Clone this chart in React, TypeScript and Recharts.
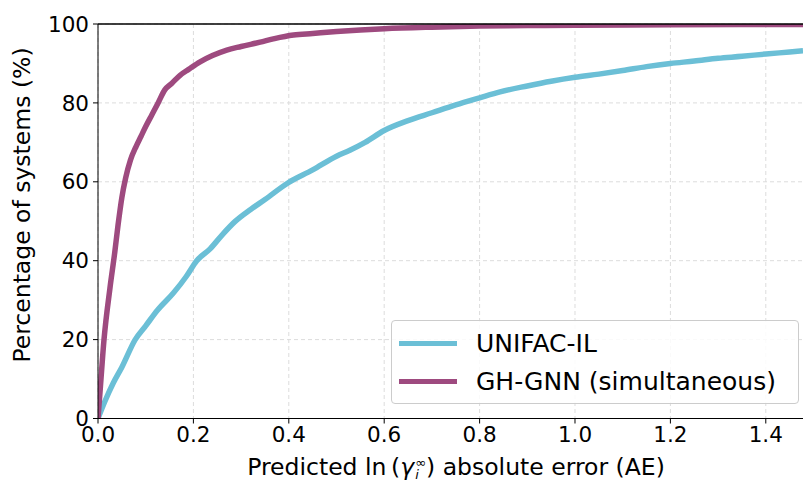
import React from 'react'
import {
  LineChart,
  Line,
  XAxis,
  YAxis,
  CartesianGrid,
  ReferenceLine,
} from 'recharts'

// absolute error (x) vs cumulative percentage of systems (y)
const unifacX = [0, 0.015, 0.032, 0.05, 0.078, 0.1, 0.125, 0.158, 0.185, 0.207, 0.235, 0.26, 0.287, 0.32, 0.35, 0.398, 0.45, 0.5, 0.528, 0.56, 0.6, 0.65, 0.7, 0.75, 0.8, 0.843, 0.9, 0.95, 1.0, 1.05, 1.1, 1.15, 1.2, 1.25, 1.3, 1.35, 1.4, 1.45, 1.478]
const unifacY = [0, 4.5, 9, 13, 20, 23.5, 27.5, 31.8, 36, 40, 43, 46.5, 49.9, 53, 55.5, 59.7, 63, 66.5, 68, 70, 73, 75.5, 77.5, 79.5, 81.3, 82.8, 84.3, 85.5, 86.5, 87.3, 88.2, 89.2, 90, 90.6, 91.3, 91.8, 92.4, 92.9, 93.2]

const ghgnnX = [0, 0.005, 0.0126, 0.025, 0.035, 0.042, 0.05, 0.058, 0.068, 0.08, 0.09, 0.1, 0.113, 0.126, 0.14, 0.155, 0.172, 0.19, 0.214, 0.24, 0.27, 0.3, 0.34, 0.37, 0.41, 0.45, 0.5, 0.55, 0.6, 0.7, 0.8, 0.9, 1.0, 1.2, 1.478]
const ghgnnY = [0, 8, 20, 33, 42, 49, 56, 61, 65.5, 69, 71.5, 74, 77, 80, 83.3, 85, 87, 88.5, 90.4, 92, 93.4, 94.3, 95.4, 96.3, 97.2, 97.6, 98.1, 98.5, 98.8, 99.2, 99.5, 99.6, 99.7, 99.8, 99.9]

const xTicks = [0, 0.2, 0.4, 0.6, 0.8, 1.0, 1.2, 1.4]
const yTicks = [0, 20, 40, 60, 80, 100]

const CYAN = '#6bbfd6'
const PURPLE = '#9e4a7f'
const FONT = '"DejaVu Sans", sans-serif'

const unifacData = unifacX.map((x, i) => ({ x, y: unifacY[i] }))
const ghgnnData = ghgnnX.map((x, i) => ({ x, y: ghgnnY[i] }))

export default function App() {
  return (
    <div style={{ position: 'absolute', left: 0, top: 0, width: 803, height: 482, background: '#fff', fontFamily: FONT, overflow: 'hidden' }}>
      <LineChart width={803} height={482} margin={{ top: 24, right: 0, bottom: 0, left: 38 }}>
        <CartesianGrid stroke="#dcdcdc" strokeDasharray="4 3" verticalValues={xTicks} horizontalValues={yTicks} />
        <XAxis
          type="number"
          dataKey="x"
          domain={[0, 1.478]}
          ticks={xTicks}
          allowDataOverflow
          tickFormatter={(v: number) => v.toFixed(1)}
          height={63.5}
          stroke="#000"
          tickSize={5}
          tickMargin={3}
          tick={{ fill: '#000', fontSize: 21.5, fontFamily: FONT }}
        />
        <YAxis
          type="number"
          dataKey="y"
          domain={[0, 100]}
          ticks={yTicks}
          allowDataOverflow
          width={60}
          stroke="#000"
          tickSize={5}
          tickMargin={4}
          tick={{ fill: '#000', fontSize: 21.5, fontFamily: FONT }}
        />
        <Line data={unifacData} dataKey="y" type="monotone" stroke={CYAN} strokeWidth={5.5} dot={false} isAnimationActive={false} />
        <Line data={ghgnnData} dataKey="y" type="monotone" stroke={PURPLE} strokeWidth={5.5} dot={false} isAnimationActive={false} />
        <ReferenceLine y={100} stroke="#000" strokeWidth={1.3} strokeOpacity={1} />
      </LineChart>

      <div style={{ position: 'absolute', left: 22, top: 205, transform: 'translate(-50%, -50%) rotate(-90deg)', whiteSpace: 'nowrap', fontSize: 23.5, color: '#000' }}>
        Percentage of systems (%)
      </div>

      <div style={{ position: 'absolute', left: 456, top: 467, transform: 'translate(-50%, -50%)', whiteSpace: 'nowrap', fontSize: 23.5, color: '#000' }}>
        Predicted ln&thinsp;(<span style={{ fontStyle: 'italic' }}>γ</span>
        <span style={{ display: 'inline-flex', flexDirection: 'column', verticalAlign: 'middle', fontSize: 13, lineHeight: '12px', marginLeft: 1 }}>
          <span>∞</span>
          <span style={{ fontStyle: 'italic' }}>i</span>
        </span>) absolute error (AE)
      </div>

      <div style={{ position: 'absolute', left: 391, top: 320, width: 408, height: 84, border: '1px solid #cccccc', borderRadius: 4, background: 'rgba(255,255,255,0.85)', boxSizing: 'border-box' }}>
        {[
          { label: 'UNIFAC-IL', color: CYAN },
          { label: 'GH-GNN (simultaneous)', color: PURPLE },
        ].map((item, i) => (
          <div key={item.label} style={{ position: 'absolute', left: 0, top: 22 + i * 38 - 16, height: 32, display: 'flex', alignItems: 'center' }}>
            <span style={{ display: 'inline-block', width: 58, height: 5, background: item.color, marginLeft: 7 }} />
            <span style={{ marginLeft: 19, fontSize: 25, whiteSpace: 'nowrap' }}>{item.label}</span>
          </div>
        ))}
      </div>
    </div>
  )
}
